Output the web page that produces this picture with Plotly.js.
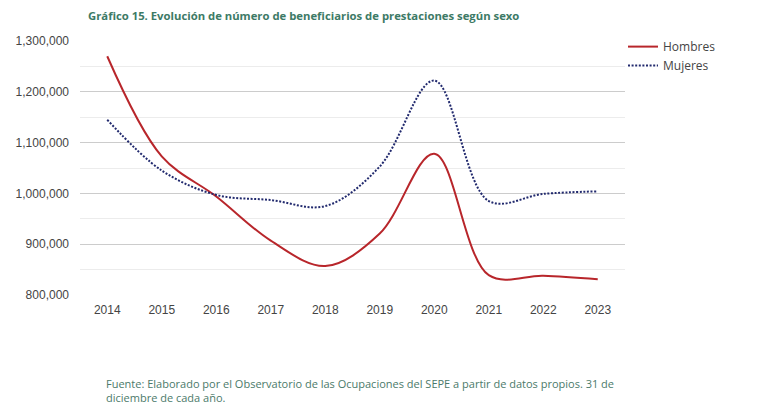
<!DOCTYPE html>
<html>
<head>
<meta charset="utf-8">
<script src="https://cdn.plot.ly/plotly-3.0.1.min.js"></script>
<style>html,body{margin:0;padding:0;background:#fff;}#chart{width:759px;height:418px;}</style>
</head>
<body>
<div id="chart"></div>
<script>
const years = ["2014","2015","2016","2017","2018","2019","2020","2021","2022","2023"];
const hombres = [1270000, 1073000, 994000, 907000, 857000, 921000, 1078000, 839000, 838000, 831000];
const mujeres = [1145000, 1045000, 997000, 987000, 975000, 1053000, 1222000, 985000, 999000, 1004000];
const yTicks = [800000, 900000, 1000000, 1100000, 1200000, 1300000];
const yTickText = ["800,000", "900,000", "1,000,000", "1,100,000", "1,200,000", "1,300,000"];

const W = 759, H = 418, L = 80, R = 134, T = 41, B = 123;
const pw = W - L - R, ph = H - T - B;

const traces = [
  {x: years, y: hombres, name: "Hombres", type: "scatter", mode: "lines",
   line: {color: "#b8262b", width: 2, shape: "spline", smoothing: 1}},
  {x: years, y: mujeres, name: "Mujeres", type: "scatter", mode: "lines",
   line: {color: "#222a6e", width: 2, dash: "2px,1.6px", shape: "spline", smoothing: 1}}
];

const layout = {
  width: W, height: H,
  margin: {l: L, r: R, t: T, b: B},
  paper_bgcolor: "#fff", plot_bgcolor: "#fff",
  showlegend: true,
  legend: {x: (623 - L) / pw, xanchor: "left", y: 1.035, yanchor: "top",
           font: {family: "Open Sans", size: 12, color: "#444"},
           bgcolor: "rgba(0,0,0,0)", tracegroupgap: 0, itemwidth: 30},
  title: {text: "<b>Gráfico 15. Evolución de número de beneficiarios de prestaciones según sexo</b>",
          x: 88 / W, xanchor: "left", xref: "container", y: 1 - 16 / H, yanchor: "middle", yref: "container",
          font: {family: "Open Sans", size: 11.3, color: "#3d7a66"}},
  xaxis: {type: "category", range: [-0.5, 9.5], showgrid: false, zeroline: false,
          showline: false, ticks: "", ticklabelstandoff: 6,
          tickfont: {family: "Arial", size: 12, color: "#444"},
          fixedrange: true},
  yaxis: {range: [800000, 1300000], tickvals: yTicks, ticktext: yTickText,
          showgrid: true, gridcolor: "#cccccc", gridwidth: 1, zeroline: false, showline: false,
          ticks: "", ticklabelstandoff: 10,
          tickfont: {family: "Arial", size: 12, color: "#444"},
          minor: {dtick: 50000, tick0: 0, showgrid: true, gridcolor: "#ececec", gridwidth: 1, ticks: ""},
          fixedrange: true},
  annotations: [
    {text: "Fuente: Elaborado por el Observatorio de las Ocupaciones del SEPE a partir de datos propios. 31 de<br>diciembre de cada año.",
     xref: "paper", yref: "paper", x: (104 - L) / pw, y: (T + ph - 374) / ph,
     xanchor: "left", yanchor: "top", align: "left", showarrow: false,
     font: {family: "Open Sans", size: 11, color: "#4b7a6a"}}
  ]
};

Plotly.newPlot("chart", traces, layout, {displayModeBar: false, staticPlot: true});
</script>
</body>
</html>
